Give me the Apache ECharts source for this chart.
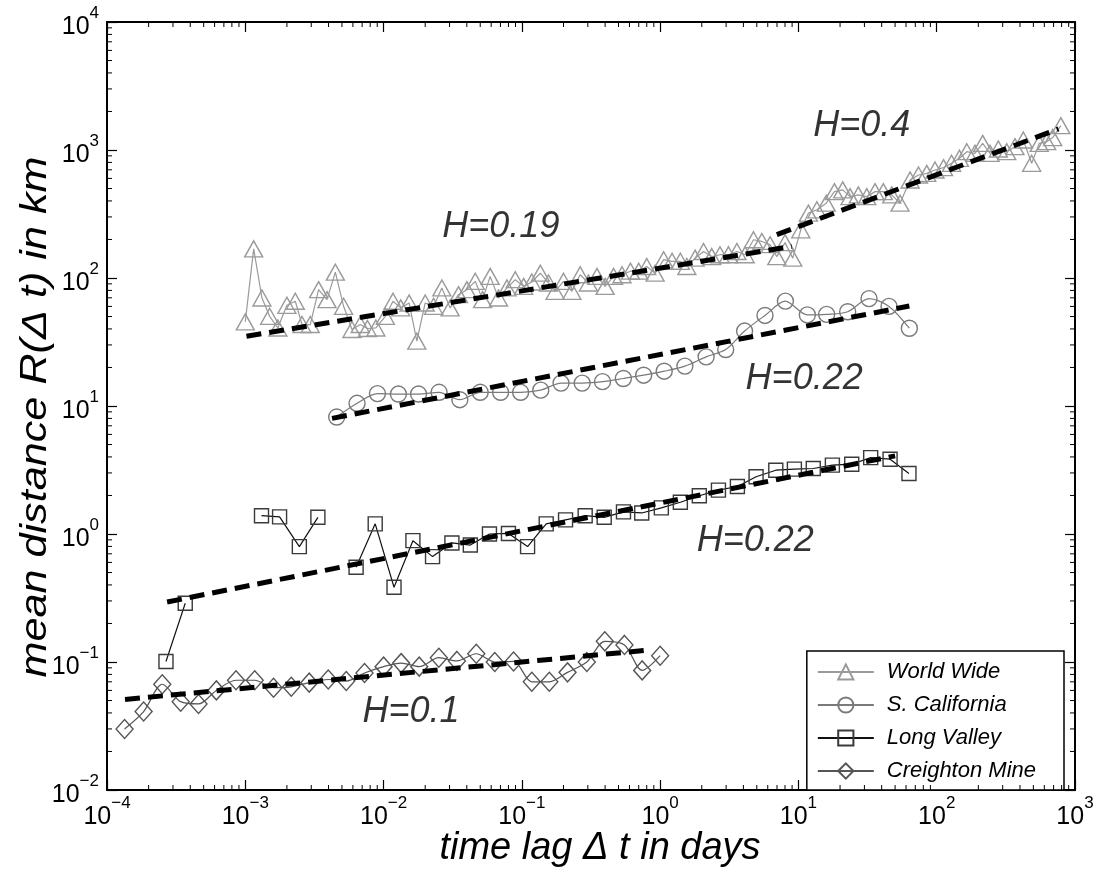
<!DOCTYPE html>
<html>
<head>
<meta charset="utf-8">
<script src="https://cdn.jsdelivr.net/npm/echarts@6/dist/echarts.min.js"></script>
<style>html,body{margin:0;padding:0;background:#fff}#c{width:1102px;height:878px}</style>
</head>
<body>
<div id="c"></div>
<script>
// ---- data ----
const seriesNames = ['World Wide', 'S. California', 'Long Valley', 'Creighton Mine'];
const xTickExponents = [-4, -3, -2, -1, 0, 1, 2, 3];
const yTickExponents = [-2, -1, 0, 1, 2, 3, 4];
const xTitle = 'time lag \u0394 t in days';
const yTitle = 'mean distance R(\u0394 t) in km';

const worldWide = [
 [1.0e-3,45.4],[1.15e-3,169],[1.32e-3,69.8],[1.5e-3,50.2],[1.72e-3,40.7],[2.0e-3,61.2],[2.3e-3,65.8],
 [2.57e-3,43.3],[2.95e-3,43.3],[3.39e-3,81.1],[3.9e-3,67.8],[4.48e-3,111],[5.14e-3,60.1],[5.91e-3,39.6],
 [6.78e-3,43.3],[7.65e-3,40.3],[8.8e-3,40.7],[0.0103,50.2],[0.0117,65.8],[0.0133,58.4],[0.0153,63.8],
 [0.0174,32.1],[0.020,63.8],[0.023,60.1],[0.0264,83.6],[0.0303,58.4],[0.0348,74.1],[0.040,81.1],
 [0.046,94.2],[0.052,67.8],[0.059,103],[0.0678,69.8],[0.078,83.6],[0.0896,97],[0.103,86],[0.118,93],
 [0.136,109],[0.156,91.4],[0.174,78.7],[0.2,94.2],[0.23,78.7],[0.264,106],[0.303,91.4],[0.349,103],
 [0.4,86],[0.46,103],[0.53,106],[0.61,113],[0.70,113],[0.80,123],[0.92,109],[1.06,139],[1.22,135],
 [1.40,135],[1.56,123],[1.79,143],[2.06,161],[2.36,147],[2.71,152],[3.12,152],[3.59,161],[4.12,152],
 [4.73,199],[5.44,193],[6.24,182],[6.98,147],[8.0,189],[9.1,143],[10.4,238],[11.8,321],[13.6,341],
 [15.9,384],[18.2,473],[20.9,488],[23.6,432],[27.1,446],[31.2,432],[35.8,473],[41.1,473],[47.3,446],
 [54.3,384],[64.2,583],[73.8,638],[84.7,657],[97.2,698],[112,728],[128,787],[146,861],[165,970],
 [189,942],[215,1127],[243,942],[279,1018],[321,970],[368,1062],[423,1197],[486,787],[551,1127],
 [624,1161],[690,1250],[790,1550]
];
const sCalifornia = [
 [4.58e-3,8.2],[6.43e-3,10.5],[9.03e-3,12.5],[0.0128,12.4],[0.0179,12.4],[0.0252,12.8],[0.0356,11.2],
 [0.050,12.8],[0.0702,12.8],[0.098,12.8],[0.137,13.3],[0.192,15.1],[0.273,15.1],[0.383,15.5],
 [0.542,16.4],[0.76,17.4],[1.07,18.7],[1.51,20.5],[2.15,24.2],[2.98,27.6],[4.08,38.5],[5.73,51],
 [8.05,66],[11.6,51.5],[16,52],[22.7,54.5],[32.4,69],[45.2,60],[63.4,40.5]
];
const longValley = [
 [2.67e-4,0.101],[3.68e-4,0.288],[7e-4,'-'],[1.31e-3,1.39],[1.77e-3,1.36],[2.46e-3,0.797],[3.35e-3,1.35],
 [4.6e-3,'-'],[6.33e-3,0.55],[8.7e-3,1.2],[0.0119,0.384],[0.0163,0.887],[0.0226,0.666],[0.0312,0.851],
 [0.0424,0.82],[0.0583,1.0],[0.080,1.01],[0.110,0.797],[0.150,1.2],[0.207,1.29],[0.287,1.39],
 [0.394,1.35],[0.543,1.49],[0.736,1.46],[1.02,1.6],[1.40,1.77],[1.92,1.99],[2.64,2.2],[3.62,2.35],
 [4.94,2.8],[6.86,3.15],[9.35,3.21],[12.8,3.25],[17.6,3.45],[24.3,3.51],[33.3,3.95],[46,3.84],[63,2.97]
];
const creightonMine = [
 [1.34e-4,0.030],[1.84e-4,0.041],[2.51e-4,0.067],[3.41e-4,0.049],[4.59e-4,0.047],[6.18e-4,0.060],
 [8.57e-4,0.072],[1.17e-3,0.072],[1.6e-3,0.063],[2.15e-3,0.064],[2.9e-3,0.069],[3.98e-3,0.073],
 [5.37e-3,0.071],[7.28e-3,0.082],[0.01,0.092],[0.0134,0.098],[0.0181,0.092],[0.0251,0.108],
 [0.0339,0.102],[0.0468,0.116],[0.0637,0.100],[0.0871,0.101],[0.118,0.070],[0.158,0.070],
 [0.214,0.083],[0.295,0.100],[0.398,0.145],[0.552,0.136],[0.741,0.086],[1.0,0.112]
];
// fitted power laws (end points)
const fitWW1 = [[1.02e-3,35.1],[8.95,176.5]];
const fitWW2 = [[6.98,218],[760,1460]];
const fitSC = [[4.24e-3,8.0],[63.4,60.4]];
const fitLV = [[2.72e-4,0.294],[50,4.08]];
const fitCM = [[1.35e-4,0.051],[0.766,0.123]];
const annotations = [
 [28.7,1549,'H=0.4'],[0.0705,250,'H=0.19'],[11.0,16.3,'H=0.22'],[4.87,0.88,'H=0.22'],[0.0158,0.041,'H=0.1']
];

// ---- chart ----
const FONT = "'Liberation Sans', Arial, Helvetica, sans-serif";
const minorX = []; xTickExponents.slice(0,-1).forEach(e => { for (let k=2;k<=9;k++) minorX.push([k*Math.pow(10,e),1]); });
const minorY = []; yTickExponents.slice(0,-1).forEach(e => { for (let k=2;k<=9;k++) minorY.push([1,k*Math.pow(10,e)]); });

function expLabel(v){
  const e = Math.round(Math.log10(v));
  return '{b|10}{s|' + String(e).replace('-', '\u2212') + '}';
}
const tickRich = {
  b:{fontSize:25, fontFamily:FONT, color:'#000', lineHeight:35, verticalAlign:'bottom'},
  s:{fontSize:17, fontFamily:FONT, color:'#000', lineHeight:17, verticalAlign:'top'}
};
const axBase = {type:'log', logBase:10, interval:1, splitLine:{show:false},
  axisLine:{lineStyle:{color:'#000', width:2}},
  axisTick:{inside:true, length:10, lineStyle:{color:'#000', width:1.2}}};

function dataSeries(name, data, symbol, size, color, lineColor, smooth){
  return {name, type:'line', data, symbol, symbolSize:size, smooth: smooth||false,
    connectNulls:false, showSymbol:true,
    lineStyle:{color:lineColor, width:1.2},
    itemStyle:{color:'rgba(255,255,255,0)', borderColor:color, borderWidth:1.4},
    z:3, animation:false};
}
function fitSeries(data){
  return {type:'line', data, symbol:'none', lineStyle:{color:'#000', width:5, type:[15,8], cap:'butt'}, z:5, animation:false, silent:true};
}
function minorTicks(data, dir){
  return {type:'custom', data, silent:true, z:6, animation:false,
    renderItem:(params, api) => {
      const cs = params.coordSys;
      const p = api.coord([api.value(0), api.value(1)]);
      const st = {stroke:'#000', lineWidth:1};
      if (dir === 'x') {
        const x = p[0];
        return {type:'group', children:[
          {type:'line', shape:{x1:x,y1:cs.y+cs.height,x2:x,y2:cs.y+cs.height-5}, style:st},
          {type:'line', shape:{x1:x,y1:cs.y,x2:x,y2:cs.y+5}, style:st}]};
      }
      const y = p[1];
      return {type:'group', children:[
        {type:'line', shape:{x1:cs.x,y1:y,x2:cs.x+5,y2:y}, style:st},
        {type:'line', shape:{x1:cs.x+cs.width,y1:y,x2:cs.x+cs.width-5,y2:y}, style:st}]};
    }};
}

const chart = echarts.init(document.getElementById('c'), null, {renderer:'canvas'});
chart.setOption({
  backgroundColor:'#fff',
  animation:false,
  grid:{left:107, right:27, top:22, bottom:88},
  xAxis:[
    Object.assign({}, axBase, {min:1e-4, max:1e3, position:'bottom',
      axisLabel:{formatter:expLabel, rich:tickRich, margin:5}}),
    Object.assign({}, axBase, {min:1e-4, max:1e3, position:'top', axisLabel:{show:false}})
  ],
  yAxis:[
    Object.assign({}, axBase, {min:1e-2, max:1e4, position:'left',
      axisLabel:{formatter:expLabel, rich:tickRich, margin:8}}),
    Object.assign({}, axBase, {min:1e-2, max:1e4, position:'right', axisLabel:{show:false}})
  ],
  legend:{
    data:seriesNames, orient:'vertical', right:38, bottom:88,
    backgroundColor:'#fff', borderColor:'#000', borderWidth:1.5, borderRadius:0,
    padding:[10,28,8,10], itemGap:11, itemWidth:56, itemHeight:19,
    textStyle:{fontSize:22, fontStyle:'italic', fontFamily:FONT, color:'#000', padding:[0,0,0,8]}
  },
  graphic:[
    {type:'text', x:600, y:848, silent:true,
      style:{text:xTitle, fontSize:38, fontStyle:'italic', fontFamily:FONT, fill:'#000', align:'center', verticalAlign:'middle'}},
    {type:'text', x:36, y:417, rotation:Math.PI/2, scaleX:1.2, scaleY:1, silent:true,
      style:{text:yTitle, fontSize:36, fontStyle:'italic', fontFamily:FONT, fill:'#000', align:'center', verticalAlign:'middle'}}
  ],
  series:[
    dataSeries(seriesNames[0], worldWide, 'triangle', [18,16], '#9a9a9a', '#9a9a9a'),
    dataSeries(seriesNames[1], sCalifornia, 'circle', 16, '#7a7a7a', '#7a7a7a', 0.3),
    dataSeries(seriesNames[2], longValley, 'rect', 14, '#3a3a3a', '#111'),
    dataSeries(seriesNames[3], creightonMine, 'diamond', [17,19], '#555', '#555', 0.3),
    fitSeries(fitWW1), fitSeries(fitWW2), fitSeries(fitSC), fitSeries(fitLV), fitSeries(fitCM),
    {type:'scatter', data:annotations.map(a => [a[0], a[1], a[2]]), symbolSize:1, itemStyle:{color:'rgba(0,0,0,0)'},
      silent:true, z:7, animation:false,
      label:{show:true, position:'inside', formatter:p => p.value[2], fontSize:36, fontStyle:'italic', fontFamily:FONT, color:'#000'}},
    minorTicks(minorX, 'x'), minorTicks(minorY, 'y')
  ]
});
</script>
</body>
</html>
